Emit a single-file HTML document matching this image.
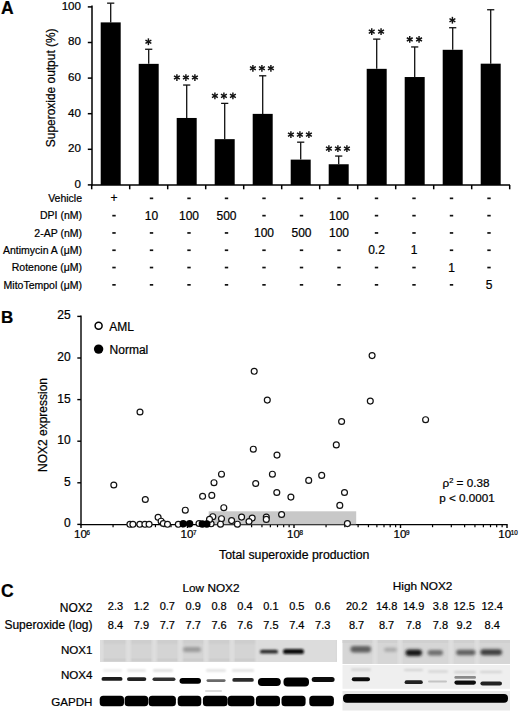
<!DOCTYPE html>
<html><head><meta charset="utf-8"><style>
html,body{margin:0;padding:0;background:#fff;}
body{width:520px;height:716px;overflow:hidden;position:relative;}
svg{position:absolute;left:0;top:0;}
text{font-family:"Liberation Sans", sans-serif;fill:#000;stroke:#000;stroke-width:0.22px;}
</style></head><body>
<svg width="520" height="716" viewBox="0 0 520 716">
<defs>
<filter id="b1" x="-20%" y="-100%" width="140%" height="300%"><feGaussianBlur stdDeviation="0.9"/></filter>
<filter id="b2" x="-20%" y="-100%" width="140%" height="300%"><feGaussianBlur stdDeviation="1.4"/></filter>
<filter id="b3" x="-20%" y="-100%" width="140%" height="300%"><feGaussianBlur stdDeviation="0.6"/></filter>
<filter id="bs" x="-10%" y="-10%" width="120%" height="120%"><feGaussianBlur stdDeviation="1.2"/></filter>
<filter id="bg" x="-20%" y="-100%" width="140%" height="300%"><feGaussianBlur stdDeviation="0.75"/></filter>
<clipPath id="cL1"><rect x="100" y="640" width="237" height="22"/></clipPath>
<clipPath id="cL2"><rect x="100" y="662" width="237" height="48.5"/></clipPath>
<clipPath id="cR1"><rect x="342.5" y="640" width="167.5" height="24"/></clipPath>
</defs>

<text x="1" y="14" font-size="17.5" font-weight="bold" fill="#000">A</text>
<g stroke="#000" stroke-width="1.5" fill="none">
<line x1="92" y1="5.5" x2="92" y2="185.6"/>
<line x1="91.25" y1="185" x2="510" y2="185"/>
<line x1="87.8" y1="184.90" x2="92" y2="184.90"/>
<line x1="87.8" y1="149.30" x2="92" y2="149.30"/>
<line x1="87.8" y1="113.70" x2="92" y2="113.70"/>
<line x1="87.8" y1="78.10" x2="92" y2="78.10"/>
<line x1="87.8" y1="42.50" x2="92" y2="42.50"/>
<line x1="87.8" y1="6.90" x2="92" y2="6.90"/>
<line x1="91.70" y1="185" x2="91.70" y2="189.3"/>
<line x1="129.70" y1="185" x2="129.70" y2="189.3"/>
<line x1="167.70" y1="185" x2="167.70" y2="189.3"/>
<line x1="205.70" y1="185" x2="205.70" y2="189.3"/>
<line x1="243.70" y1="185" x2="243.70" y2="189.3"/>
<line x1="281.70" y1="185" x2="281.70" y2="189.3"/>
<line x1="319.70" y1="185" x2="319.70" y2="189.3"/>
<line x1="357.70" y1="185" x2="357.70" y2="189.3"/>
<line x1="395.70" y1="185" x2="395.70" y2="189.3"/>
<line x1="433.70" y1="185" x2="433.70" y2="189.3"/>
<line x1="471.70" y1="185" x2="471.70" y2="189.3"/>
<line x1="509.70" y1="185" x2="509.70" y2="189.3"/>
</g>
<text x="81" y="187.70" font-size="11.6" text-anchor="end">0</text>
<text x="81" y="152.10" font-size="11.6" text-anchor="end">20</text>
<text x="81" y="116.50" font-size="11.6" text-anchor="end">40</text>
<text x="81" y="80.90" font-size="11.6" text-anchor="end">60</text>
<text x="81" y="45.30" font-size="11.6" text-anchor="end">80</text>
<text x="81" y="9.70" font-size="11.6" text-anchor="end">100</text>
<text transform="translate(55,87.8) rotate(-90)" font-size="11.95" text-anchor="middle">Superoxide output (%)</text>
<rect x="100.70" y="22.39" width="20" height="162.61" fill="#000"/>
<g stroke="#111" stroke-width="1.3"><line x1="110.70" y1="22.39" x2="110.70" y2="3.16"/><line x1="107.10" y1="3.16" x2="114.30" y2="3.16"/></g>
<rect x="138.70" y="63.86" width="20" height="121.14" fill="#000"/>
<g stroke="#111" stroke-width="1.3"><line x1="148.70" y1="63.86" x2="148.70" y2="49.26"/><line x1="145.10" y1="49.26" x2="152.30" y2="49.26"/></g>
<g stroke="#111" stroke-width="1.45">
<line x1="148.40" y1="38.36" x2="148.40" y2="45.16"/><line x1="145.46" y1="40.06" x2="151.34" y2="43.46"/><line x1="145.46" y1="43.46" x2="151.34" y2="40.06"/>
</g>
<rect x="176.70" y="117.97" width="20" height="67.03" fill="#000"/>
<g stroke="#111" stroke-width="1.3"><line x1="186.70" y1="117.97" x2="186.70" y2="85.04"/><line x1="183.10" y1="85.04" x2="190.30" y2="85.04"/></g>
<g stroke="#111" stroke-width="1.45">
<line x1="176.90" y1="74.14" x2="176.90" y2="80.94"/><line x1="173.96" y1="75.84" x2="179.84" y2="79.24"/><line x1="173.96" y1="79.24" x2="179.84" y2="75.84"/>
<line x1="185.90" y1="74.14" x2="185.90" y2="80.94"/><line x1="182.96" y1="75.84" x2="188.84" y2="79.24"/><line x1="182.96" y1="79.24" x2="188.84" y2="75.84"/>
<line x1="194.90" y1="74.14" x2="194.90" y2="80.94"/><line x1="191.96" y1="75.84" x2="197.84" y2="79.24"/><line x1="191.96" y1="79.24" x2="197.84" y2="75.84"/>
</g>
<rect x="214.70" y="139.15" width="20" height="45.85" fill="#000"/>
<g stroke="#111" stroke-width="1.3"><line x1="224.70" y1="139.15" x2="224.70" y2="103.38"/><line x1="221.10" y1="103.38" x2="228.30" y2="103.38"/></g>
<g stroke="#111" stroke-width="1.45">
<line x1="214.90" y1="92.48" x2="214.90" y2="99.28"/><line x1="211.96" y1="94.18" x2="217.84" y2="97.58"/><line x1="211.96" y1="97.58" x2="217.84" y2="94.18"/>
<line x1="223.90" y1="92.48" x2="223.90" y2="99.28"/><line x1="220.96" y1="94.18" x2="226.84" y2="97.58"/><line x1="220.96" y1="97.58" x2="226.84" y2="94.18"/>
<line x1="232.90" y1="92.48" x2="232.90" y2="99.28"/><line x1="229.96" y1="94.18" x2="235.84" y2="97.58"/><line x1="229.96" y1="97.58" x2="235.84" y2="94.18"/>
</g>
<rect x="252.70" y="113.88" width="20" height="71.12" fill="#000"/>
<g stroke="#111" stroke-width="1.3"><line x1="262.70" y1="113.88" x2="262.70" y2="75.79"/><line x1="259.10" y1="75.79" x2="266.30" y2="75.79"/></g>
<g stroke="#111" stroke-width="1.45">
<line x1="252.90" y1="64.89" x2="252.90" y2="71.69"/><line x1="249.96" y1="66.59" x2="255.84" y2="69.99"/><line x1="249.96" y1="69.99" x2="255.84" y2="66.59"/>
<line x1="261.90" y1="64.89" x2="261.90" y2="71.69"/><line x1="258.96" y1="66.59" x2="264.84" y2="69.99"/><line x1="258.96" y1="69.99" x2="264.84" y2="66.59"/>
<line x1="270.90" y1="64.89" x2="270.90" y2="71.69"/><line x1="267.96" y1="66.59" x2="273.84" y2="69.99"/><line x1="267.96" y1="69.99" x2="273.84" y2="66.59"/>
</g>
<rect x="290.70" y="159.62" width="20" height="25.38" fill="#000"/>
<g stroke="#111" stroke-width="1.3"><line x1="300.70" y1="159.62" x2="300.70" y2="142.18"/><line x1="297.10" y1="142.18" x2="304.30" y2="142.18"/></g>
<g stroke="#111" stroke-width="1.45">
<line x1="290.90" y1="131.28" x2="290.90" y2="138.08"/><line x1="287.96" y1="132.98" x2="293.84" y2="136.38"/><line x1="287.96" y1="136.38" x2="293.84" y2="132.98"/>
<line x1="299.90" y1="131.28" x2="299.90" y2="138.08"/><line x1="296.96" y1="132.98" x2="302.84" y2="136.38"/><line x1="296.96" y1="136.38" x2="302.84" y2="132.98"/>
<line x1="308.90" y1="131.28" x2="308.90" y2="138.08"/><line x1="305.96" y1="132.98" x2="311.84" y2="136.38"/><line x1="305.96" y1="136.38" x2="311.84" y2="132.98"/>
</g>
<rect x="328.70" y="164.25" width="20" height="20.75" fill="#000"/>
<g stroke="#111" stroke-width="1.3"><line x1="338.70" y1="164.25" x2="338.70" y2="156.06"/><line x1="335.10" y1="156.06" x2="342.30" y2="156.06"/></g>
<g stroke="#111" stroke-width="1.45">
<line x1="328.90" y1="145.16" x2="328.90" y2="151.96"/><line x1="325.96" y1="146.86" x2="331.84" y2="150.26"/><line x1="325.96" y1="150.26" x2="331.84" y2="146.86"/>
<line x1="337.90" y1="145.16" x2="337.90" y2="151.96"/><line x1="334.96" y1="146.86" x2="340.84" y2="150.26"/><line x1="334.96" y1="150.26" x2="340.84" y2="146.86"/>
<line x1="346.90" y1="145.16" x2="346.90" y2="151.96"/><line x1="343.96" y1="146.86" x2="349.84" y2="150.26"/><line x1="343.96" y1="150.26" x2="349.84" y2="146.86"/>
</g>
<rect x="366.70" y="68.84" width="20" height="116.16" fill="#000"/>
<g stroke="#111" stroke-width="1.3"><line x1="376.70" y1="68.84" x2="376.70" y2="39.12"/><line x1="373.10" y1="39.12" x2="380.30" y2="39.12"/></g>
<g stroke="#111" stroke-width="1.45">
<line x1="371.75" y1="28.22" x2="371.75" y2="35.02"/><line x1="368.81" y1="29.92" x2="374.69" y2="33.32"/><line x1="368.81" y1="33.32" x2="374.69" y2="29.92"/>
<line x1="381.05" y1="28.22" x2="381.05" y2="35.02"/><line x1="378.11" y1="29.92" x2="383.99" y2="33.32"/><line x1="378.11" y1="33.32" x2="383.99" y2="29.92"/>
</g>
<rect x="404.70" y="77.03" width="20" height="107.97" fill="#000"/>
<g stroke="#111" stroke-width="1.3"><line x1="414.70" y1="77.03" x2="414.70" y2="46.95"/><line x1="411.10" y1="46.95" x2="418.30" y2="46.95"/></g>
<g stroke="#111" stroke-width="1.45">
<line x1="409.75" y1="36.05" x2="409.75" y2="42.85"/><line x1="406.81" y1="37.75" x2="412.69" y2="41.15"/><line x1="406.81" y1="41.15" x2="412.69" y2="37.75"/>
<line x1="419.05" y1="36.05" x2="419.05" y2="42.85"/><line x1="416.11" y1="37.75" x2="421.99" y2="41.15"/><line x1="416.11" y1="41.15" x2="421.99" y2="37.75"/>
</g>
<rect x="442.70" y="49.80" width="20" height="135.20" fill="#000"/>
<g stroke="#111" stroke-width="1.3"><line x1="452.70" y1="49.80" x2="452.70" y2="27.73"/><line x1="449.10" y1="27.73" x2="456.30" y2="27.73"/></g>
<g stroke="#111" stroke-width="1.45">
<line x1="452.40" y1="16.83" x2="452.40" y2="23.63"/><line x1="449.46" y1="18.53" x2="455.34" y2="21.93"/><line x1="449.46" y1="21.93" x2="455.34" y2="18.53"/>
</g>
<rect x="480.70" y="63.68" width="20" height="121.32" fill="#000"/>
<g stroke="#111" stroke-width="1.3"><line x1="490.70" y1="63.68" x2="490.70" y2="9.75"/><line x1="487.10" y1="9.75" x2="494.30" y2="9.75"/></g>
<text x="82" y="202.00" font-size="10.5" text-anchor="end">Vehicle</text>
<text x="114.00" y="202.00" font-size="12" text-anchor="middle">+</text>
<rect x="149.80" y="197.50" width="3.4" height="1.7" fill="#111"/>
<rect x="187.30" y="197.50" width="3.4" height="1.7" fill="#111"/>
<rect x="224.80" y="197.50" width="3.4" height="1.7" fill="#111"/>
<rect x="262.30" y="197.50" width="3.4" height="1.7" fill="#111"/>
<rect x="299.80" y="197.50" width="3.4" height="1.7" fill="#111"/>
<rect x="337.30" y="197.50" width="3.4" height="1.7" fill="#111"/>
<rect x="374.80" y="197.50" width="3.4" height="1.7" fill="#111"/>
<rect x="412.30" y="197.50" width="3.4" height="1.7" fill="#111"/>
<rect x="449.80" y="197.50" width="3.4" height="1.7" fill="#111"/>
<rect x="487.30" y="197.50" width="3.4" height="1.7" fill="#111"/>
<text x="82" y="219.30" font-size="10.5" text-anchor="end">DPI (nM)</text>
<rect x="112.30" y="214.80" width="3.4" height="1.7" fill="#111"/>
<text x="151.50" y="219.60" font-size="12" text-anchor="middle">10</text>
<text x="189.00" y="219.60" font-size="12" text-anchor="middle">100</text>
<text x="226.50" y="219.60" font-size="12" text-anchor="middle">500</text>
<rect x="262.30" y="214.80" width="3.4" height="1.7" fill="#111"/>
<rect x="299.80" y="214.80" width="3.4" height="1.7" fill="#111"/>
<text x="339.00" y="219.60" font-size="12" text-anchor="middle">100</text>
<rect x="374.80" y="214.80" width="3.4" height="1.7" fill="#111"/>
<rect x="412.30" y="214.80" width="3.4" height="1.7" fill="#111"/>
<rect x="449.80" y="214.80" width="3.4" height="1.7" fill="#111"/>
<rect x="487.30" y="214.80" width="3.4" height="1.7" fill="#111"/>
<text x="82" y="236.60" font-size="10.5" text-anchor="end">2-AP (nM)</text>
<rect x="112.30" y="232.10" width="3.4" height="1.7" fill="#111"/>
<rect x="149.80" y="232.10" width="3.4" height="1.7" fill="#111"/>
<rect x="187.30" y="232.10" width="3.4" height="1.7" fill="#111"/>
<rect x="224.80" y="232.10" width="3.4" height="1.7" fill="#111"/>
<text x="264.00" y="236.90" font-size="12" text-anchor="middle">100</text>
<text x="301.50" y="236.90" font-size="12" text-anchor="middle">500</text>
<text x="339.00" y="236.90" font-size="12" text-anchor="middle">100</text>
<rect x="374.80" y="232.10" width="3.4" height="1.7" fill="#111"/>
<rect x="412.30" y="232.10" width="3.4" height="1.7" fill="#111"/>
<rect x="449.80" y="232.10" width="3.4" height="1.7" fill="#111"/>
<rect x="487.30" y="232.10" width="3.4" height="1.7" fill="#111"/>
<text x="82" y="253.90" font-size="10.5" text-anchor="end">Antimycin A (μM)</text>
<rect x="112.30" y="249.40" width="3.4" height="1.7" fill="#111"/>
<rect x="149.80" y="249.40" width="3.4" height="1.7" fill="#111"/>
<rect x="187.30" y="249.40" width="3.4" height="1.7" fill="#111"/>
<rect x="224.80" y="249.40" width="3.4" height="1.7" fill="#111"/>
<rect x="262.30" y="249.40" width="3.4" height="1.7" fill="#111"/>
<rect x="299.80" y="249.40" width="3.4" height="1.7" fill="#111"/>
<rect x="337.30" y="249.40" width="3.4" height="1.7" fill="#111"/>
<text x="376.50" y="254.20" font-size="12" text-anchor="middle">0.2</text>
<text x="414.00" y="254.20" font-size="12" text-anchor="middle">1</text>
<rect x="449.80" y="249.40" width="3.4" height="1.7" fill="#111"/>
<rect x="487.30" y="249.40" width="3.4" height="1.7" fill="#111"/>
<text x="82" y="271.20" font-size="10.5" text-anchor="end">Rotenone (μM)</text>
<rect x="112.30" y="266.70" width="3.4" height="1.7" fill="#111"/>
<rect x="149.80" y="266.70" width="3.4" height="1.7" fill="#111"/>
<rect x="187.30" y="266.70" width="3.4" height="1.7" fill="#111"/>
<rect x="224.80" y="266.70" width="3.4" height="1.7" fill="#111"/>
<rect x="262.30" y="266.70" width="3.4" height="1.7" fill="#111"/>
<rect x="299.80" y="266.70" width="3.4" height="1.7" fill="#111"/>
<rect x="337.30" y="266.70" width="3.4" height="1.7" fill="#111"/>
<rect x="374.80" y="266.70" width="3.4" height="1.7" fill="#111"/>
<rect x="412.30" y="266.70" width="3.4" height="1.7" fill="#111"/>
<text x="451.50" y="271.50" font-size="12" text-anchor="middle">1</text>
<rect x="487.30" y="266.70" width="3.4" height="1.7" fill="#111"/>
<text x="82" y="288.50" font-size="10.5" text-anchor="end">MitoTempol (μM)</text>
<rect x="112.30" y="284.00" width="3.4" height="1.7" fill="#111"/>
<rect x="149.80" y="284.00" width="3.4" height="1.7" fill="#111"/>
<rect x="187.30" y="284.00" width="3.4" height="1.7" fill="#111"/>
<rect x="224.80" y="284.00" width="3.4" height="1.7" fill="#111"/>
<rect x="262.30" y="284.00" width="3.4" height="1.7" fill="#111"/>
<rect x="299.80" y="284.00" width="3.4" height="1.7" fill="#111"/>
<rect x="337.30" y="284.00" width="3.4" height="1.7" fill="#111"/>
<rect x="374.80" y="284.00" width="3.4" height="1.7" fill="#111"/>
<rect x="412.30" y="284.00" width="3.4" height="1.7" fill="#111"/>
<rect x="449.80" y="284.00" width="3.4" height="1.7" fill="#111"/>
<text x="489.00" y="288.80" font-size="12" text-anchor="middle">5</text>
<text x="1" y="323.2" font-size="17" font-weight="bold" fill="#000">B</text>
<g stroke="#000" stroke-width="1.4" fill="none">
<line x1="81" y1="315.6" x2="81" y2="525.2"/>
<line x1="80.3" y1="524.6" x2="507.6" y2="524.6"/>
<line x1="77.3" y1="524.40" x2="81" y2="524.40"/>
<line x1="77.3" y1="482.80" x2="81" y2="482.80"/>
<line x1="77.3" y1="441.20" x2="81" y2="441.20"/>
<line x1="77.3" y1="399.60" x2="81" y2="399.60"/>
<line x1="77.3" y1="358.00" x2="81" y2="358.00"/>
<line x1="77.3" y1="316.40" x2="81" y2="316.40"/>
<line x1="81.00" y1="524.6" x2="81.00" y2="528"/>
<line x1="113.06" y1="524.6" x2="113.06" y2="527.2" stroke-width="1.2"/>
<line x1="131.81" y1="524.6" x2="131.81" y2="527.2" stroke-width="1.2"/>
<line x1="145.12" y1="524.6" x2="145.12" y2="527.2" stroke-width="1.2"/>
<line x1="155.44" y1="524.6" x2="155.44" y2="527.2" stroke-width="1.2"/>
<line x1="163.87" y1="524.6" x2="163.87" y2="527.2" stroke-width="1.2"/>
<line x1="171.00" y1="524.6" x2="171.00" y2="527.2" stroke-width="1.2"/>
<line x1="177.18" y1="524.6" x2="177.18" y2="527.2" stroke-width="1.2"/>
<line x1="182.63" y1="524.6" x2="182.63" y2="527.2" stroke-width="1.2"/>
<line x1="187.50" y1="524.6" x2="187.50" y2="528"/>
<line x1="219.56" y1="524.6" x2="219.56" y2="527.2" stroke-width="1.2"/>
<line x1="238.31" y1="524.6" x2="238.31" y2="527.2" stroke-width="1.2"/>
<line x1="251.62" y1="524.6" x2="251.62" y2="527.2" stroke-width="1.2"/>
<line x1="261.94" y1="524.6" x2="261.94" y2="527.2" stroke-width="1.2"/>
<line x1="270.37" y1="524.6" x2="270.37" y2="527.2" stroke-width="1.2"/>
<line x1="277.50" y1="524.6" x2="277.50" y2="527.2" stroke-width="1.2"/>
<line x1="283.68" y1="524.6" x2="283.68" y2="527.2" stroke-width="1.2"/>
<line x1="289.13" y1="524.6" x2="289.13" y2="527.2" stroke-width="1.2"/>
<line x1="294.00" y1="524.6" x2="294.00" y2="528"/>
<line x1="326.06" y1="524.6" x2="326.06" y2="527.2" stroke-width="1.2"/>
<line x1="344.81" y1="524.6" x2="344.81" y2="527.2" stroke-width="1.2"/>
<line x1="358.12" y1="524.6" x2="358.12" y2="527.2" stroke-width="1.2"/>
<line x1="368.44" y1="524.6" x2="368.44" y2="527.2" stroke-width="1.2"/>
<line x1="376.87" y1="524.6" x2="376.87" y2="527.2" stroke-width="1.2"/>
<line x1="384.00" y1="524.6" x2="384.00" y2="527.2" stroke-width="1.2"/>
<line x1="390.18" y1="524.6" x2="390.18" y2="527.2" stroke-width="1.2"/>
<line x1="395.63" y1="524.6" x2="395.63" y2="527.2" stroke-width="1.2"/>
<line x1="400.50" y1="524.6" x2="400.50" y2="528"/>
<line x1="432.56" y1="524.6" x2="432.56" y2="527.2" stroke-width="1.2"/>
<line x1="451.31" y1="524.6" x2="451.31" y2="527.2" stroke-width="1.2"/>
<line x1="464.62" y1="524.6" x2="464.62" y2="527.2" stroke-width="1.2"/>
<line x1="474.94" y1="524.6" x2="474.94" y2="527.2" stroke-width="1.2"/>
<line x1="483.37" y1="524.6" x2="483.37" y2="527.2" stroke-width="1.2"/>
<line x1="490.50" y1="524.6" x2="490.50" y2="527.2" stroke-width="1.2"/>
<line x1="496.68" y1="524.6" x2="496.68" y2="527.2" stroke-width="1.2"/>
<line x1="502.13" y1="524.6" x2="502.13" y2="527.2" stroke-width="1.2"/>
<line x1="507.00" y1="524.6" x2="507.00" y2="528"/>
</g>
<text x="70.7" y="527.40" font-size="12" text-anchor="end">0</text>
<text x="70.7" y="485.80" font-size="12" text-anchor="end">5</text>
<text x="70.7" y="444.20" font-size="12" text-anchor="end">10</text>
<text x="70.7" y="402.60" font-size="12" text-anchor="end">15</text>
<text x="70.7" y="361.00" font-size="12" text-anchor="end">20</text>
<text x="70.7" y="319.40" font-size="12" text-anchor="end">25</text>
<text x="82.00" y="538.3" font-size="11.6" text-anchor="middle">10<tspan font-size="6.3" dx="-0.6" dy="-3.5">6</tspan></text>
<text x="188.50" y="538.3" font-size="11.6" text-anchor="middle">10<tspan font-size="6.3" dx="-0.6" dy="-3.5">7</tspan></text>
<text x="295.00" y="538.3" font-size="11.6" text-anchor="middle">10<tspan font-size="6.3" dx="-0.6" dy="-3.5">8</tspan></text>
<text x="401.50" y="538.3" font-size="11.6" text-anchor="middle">10<tspan font-size="6.3" dx="-0.6" dy="-3.5">9</tspan></text>
<text x="508.00" y="538.3" font-size="11.6" text-anchor="middle">10<tspan font-size="6.3" dx="-0.6" dy="-3.5">10</tspan></text>
<text transform="translate(46.9,425) rotate(-90)" font-size="12" text-anchor="middle">NOX2 expression</text>
<text x="294.2" y="559" font-size="12.3" text-anchor="middle">Total superoxide production</text>
<rect x="208.7" y="511.3" width="147.5" height="13" fill="#c8c8c8"/>
<circle cx="98.6" cy="325.8" r="3.5" fill="#fff" stroke="#000" stroke-width="1.5"/>
<text x="109.2" y="331" font-size="12" >AML</text>
<circle cx="98.6" cy="349.1" r="4.7" fill="#000"/>
<text x="109.6" y="353.5" font-size="12" >Normal</text>
<text x="442.5" y="487" font-size="11.7">ρ<tspan font-size="7.5" dy="-4.5">2</tspan><tspan dy="4.5"> = 0.38</tspan></text>
<text x="439.2" y="502.2" font-size="11.7">p &lt; 0.0001</text>
<circle cx="140.0" cy="412" r="2.95" fill="#fff" stroke="#111" stroke-width="1.2"/>
<circle cx="254.20000000000002" cy="371.3" r="2.95" fill="#fff" stroke="#111" stroke-width="1.2"/>
<circle cx="267.3" cy="400.1" r="2.95" fill="#fff" stroke="#111" stroke-width="1.2"/>
<circle cx="253.3" cy="449.2" r="2.95" fill="#fff" stroke="#111" stroke-width="1.2"/>
<circle cx="277.0" cy="455.1" r="2.95" fill="#fff" stroke="#111" stroke-width="1.2"/>
<circle cx="221.5" cy="474.2" r="2.95" fill="#fff" stroke="#111" stroke-width="1.2"/>
<circle cx="272.40000000000003" cy="474.2" r="2.95" fill="#fff" stroke="#111" stroke-width="1.2"/>
<circle cx="372.1" cy="355.6" r="2.95" fill="#fff" stroke="#111" stroke-width="1.2"/>
<circle cx="370.3" cy="401.1" r="2.95" fill="#fff" stroke="#111" stroke-width="1.2"/>
<circle cx="425.6" cy="419.7" r="2.95" fill="#fff" stroke="#111" stroke-width="1.2"/>
<circle cx="341.6" cy="421.5" r="2.95" fill="#fff" stroke="#111" stroke-width="1.2"/>
<circle cx="336.3" cy="444.9" r="2.95" fill="#fff" stroke="#111" stroke-width="1.2"/>
<circle cx="321.7" cy="475.4" r="2.95" fill="#fff" stroke="#111" stroke-width="1.2"/>
<circle cx="308.7" cy="480.4" r="2.95" fill="#fff" stroke="#111" stroke-width="1.2"/>
<circle cx="290.90000000000003" cy="497.1" r="2.95" fill="#fff" stroke="#111" stroke-width="1.2"/>
<circle cx="344.5" cy="492.5" r="2.95" fill="#fff" stroke="#111" stroke-width="1.2"/>
<circle cx="339.8" cy="505.4" r="2.95" fill="#fff" stroke="#111" stroke-width="1.2"/>
<circle cx="347.40000000000003" cy="523.6" r="2.95" fill="#fff" stroke="#111" stroke-width="1.2"/>
<circle cx="281.6" cy="514.5" r="2.95" fill="#fff" stroke="#111" stroke-width="1.2"/>
<circle cx="113.8" cy="485" r="2.95" fill="#fff" stroke="#111" stroke-width="1.2"/>
<circle cx="145.3" cy="499.5" r="2.95" fill="#fff" stroke="#111" stroke-width="1.2"/>
<circle cx="185.3" cy="510.2" r="2.95" fill="#fff" stroke="#111" stroke-width="1.2"/>
<circle cx="158.10000000000002" cy="517.3" r="2.95" fill="#fff" stroke="#111" stroke-width="1.2"/>
<circle cx="161.10000000000002" cy="521.2" r="2.95" fill="#fff" stroke="#111" stroke-width="1.2"/>
<circle cx="163.3" cy="523.5" r="2.95" fill="#fff" stroke="#111" stroke-width="1.2"/>
<circle cx="202.60000000000002" cy="496.3" r="2.95" fill="#fff" stroke="#111" stroke-width="1.2"/>
<circle cx="211.8" cy="495.4" r="2.95" fill="#fff" stroke="#111" stroke-width="1.2"/>
<circle cx="214.0" cy="482.7" r="2.95" fill="#fff" stroke="#111" stroke-width="1.2"/>
<circle cx="255.70000000000002" cy="483.5" r="2.95" fill="#fff" stroke="#111" stroke-width="1.2"/>
<circle cx="276.8" cy="492.5" r="2.95" fill="#fff" stroke="#111" stroke-width="1.2"/>
<circle cx="223.8" cy="507.7" r="2.95" fill="#fff" stroke="#111" stroke-width="1.2"/>
<circle cx="212.8" cy="516.7" r="2.95" fill="#fff" stroke="#111" stroke-width="1.2"/>
<circle cx="221.5" cy="518.7" r="2.95" fill="#fff" stroke="#111" stroke-width="1.2"/>
<circle cx="241.60000000000002" cy="517.1" r="2.95" fill="#fff" stroke="#111" stroke-width="1.2"/>
<circle cx="252.20000000000002" cy="518.1" r="2.95" fill="#fff" stroke="#111" stroke-width="1.2"/>
<circle cx="266.3" cy="517.1" r="2.95" fill="#fff" stroke="#111" stroke-width="1.2"/>
<circle cx="266.3" cy="519.4" r="2.95" fill="#fff" stroke="#111" stroke-width="1.2"/>
<circle cx="231.60000000000002" cy="520.6" r="2.95" fill="#fff" stroke="#111" stroke-width="1.2"/>
<circle cx="249.0" cy="521.5" r="2.95" fill="#fff" stroke="#111" stroke-width="1.2"/>
<circle cx="220.5" cy="524.2" r="2.95" fill="#fff" stroke="#111" stroke-width="1.2"/>
<circle cx="237.4" cy="524.2" r="2.95" fill="#fff" stroke="#111" stroke-width="1.2"/>
<circle cx="211.10000000000002" cy="523.8" r="2.95" fill="#fff" stroke="#111" stroke-width="1.2"/>
<circle cx="209.5" cy="519.4" r="2.95" fill="#fff" stroke="#111" stroke-width="1.2"/>
<circle cx="199.0" cy="523.5" r="2.95" fill="#fff" stroke="#111" stroke-width="1.2"/>
<circle cx="129.9" cy="524.3" r="2.95" fill="#fff" stroke="#111" stroke-width="1.2"/>
<circle cx="132.9" cy="524.3" r="2.95" fill="#fff" stroke="#111" stroke-width="1.2"/>
<circle cx="139.8" cy="524.3" r="2.95" fill="#fff" stroke="#111" stroke-width="1.2"/>
<circle cx="144.9" cy="524.3" r="2.95" fill="#fff" stroke="#111" stroke-width="1.2"/>
<circle cx="149.10000000000002" cy="524.3" r="2.95" fill="#fff" stroke="#111" stroke-width="1.2"/>
<circle cx="167.5" cy="524.3" r="2.95" fill="#fff" stroke="#111" stroke-width="1.2"/>
<circle cx="178.3" cy="524.3" r="2.95" fill="#fff" stroke="#111" stroke-width="1.2"/>
<circle cx="183.2" cy="523.8" r="3.7" fill="#000"/>
<circle cx="189.6" cy="523.8" r="3.7" fill="#000"/>
<circle cx="202.3" cy="524" r="3.7" fill="#000"/>
<circle cx="206.8" cy="524" r="3.7" fill="#000"/>
<text x="1" y="596.6" font-size="17.5" font-weight="bold" fill="#000">C</text>
<text x="211" y="592" font-size="11.8" text-anchor="middle">Low NOX2</text>
<text x="422.6" y="590" font-size="11.8" text-anchor="middle">High NOX2</text>
<text x="92.5" y="612" font-size="12" text-anchor="end">NOX2</text>
<text x="92.5" y="628.8" font-size="12" text-anchor="end">Superoxide (log)</text>
<text x="92.5" y="653.8" font-size="11.6" text-anchor="end">NOX1</text>
<text x="92.5" y="679.1" font-size="11.6" text-anchor="end">NOX4</text>
<text x="92.5" y="706.3" font-size="11.6" text-anchor="end">GAPDH</text>
<text x="115.50" y="610.2" font-size="11" text-anchor="middle">2.3</text>
<text x="115.50" y="629.2" font-size="11" text-anchor="middle">8.4</text>
<text x="141.40" y="610.2" font-size="11" text-anchor="middle">1.2</text>
<text x="141.40" y="629.2" font-size="11" text-anchor="middle">7.9</text>
<text x="167.30" y="610.2" font-size="11" text-anchor="middle">0.7</text>
<text x="167.30" y="629.2" font-size="11" text-anchor="middle">7.7</text>
<text x="193.20" y="610.2" font-size="11" text-anchor="middle">0.9</text>
<text x="193.20" y="629.2" font-size="11" text-anchor="middle">7.7</text>
<text x="219.10" y="610.2" font-size="11" text-anchor="middle">0.8</text>
<text x="219.10" y="629.2" font-size="11" text-anchor="middle">7.6</text>
<text x="245.00" y="610.2" font-size="11" text-anchor="middle">0.4</text>
<text x="245.00" y="629.2" font-size="11" text-anchor="middle">7.6</text>
<text x="270.90" y="610.2" font-size="11" text-anchor="middle">0.1</text>
<text x="270.90" y="629.2" font-size="11" text-anchor="middle">7.5</text>
<text x="296.80" y="610.2" font-size="11" text-anchor="middle">0.5</text>
<text x="296.80" y="629.2" font-size="11" text-anchor="middle">7.4</text>
<text x="322.70" y="610.2" font-size="11" text-anchor="middle">0.6</text>
<text x="322.70" y="629.2" font-size="11" text-anchor="middle">7.3</text>
<text x="356.60" y="610.2" font-size="11" text-anchor="middle">20.2</text>
<text x="356.60" y="629.2" font-size="11" text-anchor="middle">8.7</text>
<text x="386.60" y="610.2" font-size="11" text-anchor="middle">14.8</text>
<text x="386.60" y="629.2" font-size="11" text-anchor="middle">8.7</text>
<text x="413.60" y="610.2" font-size="11" text-anchor="middle">14.9</text>
<text x="413.60" y="629.2" font-size="11" text-anchor="middle">7.8</text>
<text x="440.40" y="610.2" font-size="11" text-anchor="middle">3.8</text>
<text x="440.40" y="629.2" font-size="11" text-anchor="middle">7.8</text>
<text x="464.20" y="610.2" font-size="11" text-anchor="middle">12.5</text>
<text x="464.20" y="629.2" font-size="11" text-anchor="middle">9.2</text>
<text x="492.20" y="610.2" font-size="11" text-anchor="middle">12.4</text>
<text x="492.20" y="629.2" font-size="11" text-anchor="middle">8.4</text>
<rect x="100" y="640" width="237" height="22" fill="#d4d4d4"/>
<g clip-path="url(#cL1)">
<rect x="100" y="638" width="237" height="6" fill="#cecece" filter="url(#bs)"/>
<rect x="100" y="658.5" width="237" height="2.5" fill="#cdcdcd" filter="url(#b3)"/>
<rect x="100" y="662" width="237" height="27.5" fill="#f3f3f3"/>
<rect x="100" y="662" width="237" height="3" fill="#e6e6e6" filter="url(#b3)"/>
<rect x="100" y="689.5" width="237" height="21" fill="#f4f4f4"/>
<rect x="100" y="706" width="237" height="4.5" fill="#e6e6e6" filter="url(#b3)"/>
<rect x="100" y="689" width="237" height="1.2" fill="#e2e2e2"/>
<rect x="98.5" y="638" width="5" height="26" fill="#dedede" filter="url(#bs)"/>
<rect x="125.9" y="638" width="5" height="26" fill="#dedede" filter="url(#bs)"/>
<rect x="151.8" y="638" width="5" height="26" fill="#dedede" filter="url(#bs)"/>
<rect x="177.7" y="638" width="5" height="26" fill="#dedede" filter="url(#bs)"/>
<rect x="203.6" y="638" width="5" height="26" fill="#dedede" filter="url(#bs)"/>
<rect x="229.5" y="638" width="5" height="26" fill="#dedede" filter="url(#bs)"/>
<rect x="255.39999999999998" y="638" width="5" height="26" fill="#dedede" filter="url(#bs)"/>
<rect x="281.3" y="638" width="5" height="26" fill="#dedede" filter="url(#bs)"/>
<rect x="307.2" y="638" width="5" height="26" fill="#dedede" filter="url(#bs)"/>
<rect x="258" y="638" width="79" height="26" fill="#dcdcdc" filter="url(#bs)"/>
</g>
<rect x="183.0" y="647.0" width="18.0" height="5.0" rx="2.5" fill="#9a9a9a" opacity="1" filter="url(#b2)"/>
<rect x="260.0" y="649.8" width="18.0" height="3.8" rx="1.9" fill="#2a2a2a" opacity="1" filter="url(#b1)"/>
<rect x="283.0" y="648.9" width="21.0" height="5.2" rx="2.6" fill="#111" opacity="1" filter="url(#b1)"/>
<rect x="101.5" y="677.0" width="21.0" height="3.8" rx="1.9" fill="#1a1a1a" opacity="1" filter="url(#b3)"/>
<rect x="127.0" y="677.2" width="19.3" height="3.7" rx="1.9" fill="#222" opacity="1" filter="url(#b3)"/>
<rect x="152.5" y="677.5" width="23.0" height="3.5" rx="1.8" fill="#333" opacity="1" filter="url(#b3)"/>
<rect x="179.5" y="677.9" width="21.5" height="5.8" rx="2.9" fill="#000" opacity="1" filter="url(#b3)"/>
<rect x="206.5" y="679.2" width="19.1" height="2.8" rx="1.4" fill="#6a6a6a" opacity="1" filter="url(#b3)"/>
<rect x="232.3" y="678.1" width="21.5" height="3.7" rx="1.9" fill="#2a2a2a" opacity="1" filter="url(#b3)"/>
<rect x="257.9" y="678.0" width="22.9" height="8.0" rx="4.0" fill="#000" opacity="1" filter="url(#b3)"/>
<rect x="283.5" y="677.5" width="25.5" height="9.0" rx="4.0" fill="#000" opacity="1" filter="url(#b3)"/>
<rect x="311.7" y="677.1" width="22.9" height="5.0" rx="2.5" fill="#111" opacity="1" filter="url(#b3)"/>
<rect x="103.0" y="669.4" width="19.0" height="2.2" rx="1.1" fill="#e6e6e6" opacity="1" filter="url(#b1)"/>
<rect x="127.0" y="669.4" width="19.0" height="2.2" rx="1.1" fill="#dcdcdc" opacity="1" filter="url(#b1)"/>
<rect x="153.0" y="669.4" width="20.0" height="2.2" rx="1.1" fill="#d4d4d4" opacity="1" filter="url(#b1)"/>
<rect x="206.0" y="669.4" width="20.0" height="2.2" rx="1.1" fill="#dadada" opacity="1" filter="url(#b1)"/>
<rect x="232.0" y="669.4" width="22.0" height="2.2" rx="1.1" fill="#d8d8d8" opacity="1" filter="url(#b1)"/>
<rect x="99.7" y="695.8" width="24.3" height="10.4" rx="3.5" fill="#000" filter="url(#bg)"/>
<rect x="124.6" y="695.8" width="23.6" height="10.4" rx="3.5" fill="#000" filter="url(#bg)"/>
<rect x="148.6" y="695.8" width="27.3" height="10.4" rx="3.5" fill="#000" filter="url(#bg)"/>
<rect x="177.7" y="695.8" width="23.6" height="10.4" rx="3.5" fill="#000" filter="url(#bg)"/>
<rect x="202.9" y="695.8" width="24.7" height="10.4" rx="3.5" fill="#000" filter="url(#bg)"/>
<rect x="227.7" y="695.8" width="26.7" height="10.4" rx="3.5" fill="#000" filter="url(#bg)"/>
<rect x="255.9" y="695.8" width="24.1" height="10.4" rx="3.5" fill="#000" filter="url(#bg)"/>
<rect x="281.5" y="695.8" width="24.1" height="10.4" rx="3.5" fill="#000" filter="url(#bg)"/>
<rect x="309.3" y="695.8" width="24.6" height="10.4" rx="3.5" fill="#000" filter="url(#bg)"/>
<rect x="205.0" y="690.2" width="17.0" height="1.5" rx="0.8" fill="#cfcfcf" opacity="1" filter="url(#b3)"/>
<rect x="342.5" y="640" width="167.5" height="24" fill="#d6d6d6"/>
<rect x="342.5" y="640" width="167.5" height="3" fill="#d0d0d0"/>
<rect x="342.5" y="665" width="167.5" height="23.8" fill="#efefef"/>
<rect x="342.5" y="691" width="167.5" height="19.5" fill="#e8e8e8"/>
<g clip-path="url(#cR1)">
<rect x="372.5" y="638" width="5" height="28" fill="#dedede" filter="url(#bs)"/>
<rect x="397.5" y="638" width="5" height="28" fill="#dedede" filter="url(#bs)"/>
<rect x="448.5" y="638" width="5" height="28" fill="#dedede" filter="url(#bs)"/>
<rect x="474.5" y="638" width="5" height="28" fill="#dedede" filter="url(#bs)"/>
</g>
<rect x="350.5" y="646.0" width="20.5" height="6.5" rx="3.2" fill="#5e5e5e" opacity="1" filter="url(#b2)"/>
<rect x="384.0" y="647.8" width="13.0" height="4.0" rx="2.0" fill="#a8a8a8" opacity="1" filter="url(#b2)"/>
<rect x="405.5" y="649.5" width="16.5" height="6.5" rx="3.2" fill="#181818" opacity="1" filter="url(#b2)"/>
<rect x="427.6" y="650.0" width="15.4" height="5.5" rx="2.8" fill="#6e6e6e" opacity="1" filter="url(#b2)"/>
<rect x="456.2" y="649.8" width="19.3" height="5.5" rx="2.8" fill="#5e5e5e" opacity="1" filter="url(#b2)"/>
<rect x="480.4" y="649.2" width="21.6" height="6.0" rx="3.0" fill="#3e3e3e" opacity="1" filter="url(#b2)"/>
<rect x="351.8" y="677.3" width="18.2" height="4.0" rx="2.0" fill="#111" opacity="1" filter="url(#b3)"/>
<rect x="404.6" y="680.3" width="18.2" height="3.8" rx="1.9" fill="#222" opacity="1" filter="url(#b3)"/>
<rect x="454.4" y="680.5" width="21.6" height="4.2" rx="2.1" fill="#111" opacity="1" filter="url(#b3)"/>
<rect x="480.4" y="681.4" width="21.6" height="4.2" rx="2.1" fill="#222" opacity="1" filter="url(#b3)"/>
<rect x="454.4" y="676.1" width="21.6" height="2.6" rx="1.3" fill="#8a8a8a" opacity="1" filter="url(#b3)"/>
<rect x="428.0" y="680.4" width="19.0" height="2.0" rx="1.0" fill="#c4c4c4" opacity="1" filter="url(#b3)"/>
<rect x="351.0" y="668.5" width="20.0" height="2.2" rx="1.1" fill="#d0d0d0" opacity="1" filter="url(#b1)"/>
<rect x="404.0" y="668.9" width="19.0" height="2.2" rx="1.1" fill="#d0d0d0" opacity="1" filter="url(#b1)"/>
<rect x="454.0" y="671.1" width="22.0" height="2.2" rx="1.1" fill="#d0d0d0" opacity="1" filter="url(#b1)"/>
<rect x="480.0" y="670.9" width="22.0" height="2.2" rx="1.1" fill="#d0d0d0" opacity="1" filter="url(#b1)"/>
<rect x="428.0" y="670.4" width="20.0" height="2.2" rx="1.1" fill="#d0d0d0" opacity="1" filter="url(#b1)"/>
<rect x="343.0" y="693.9" width="165.0" height="8.8" rx="4.0" fill="#000" opacity="1" filter="url(#b3)"/>
</svg></body></html>
